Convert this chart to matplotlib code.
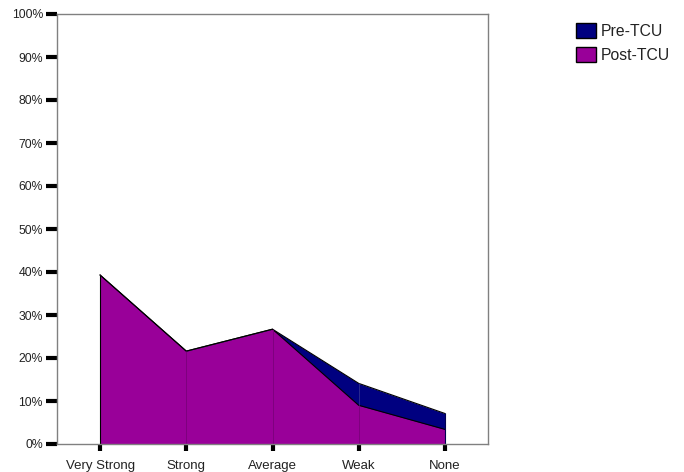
import matplotlib
matplotlib.use("Agg")
import matplotlib.pyplot as plt
from matplotlib.patches import Patch

plt.rcParams['font.family'] = ['Liberation Sans', 'DejaVu Sans']

categories = ["Very Strong", "Strong", "Average", "Weak", "None"]
pre_tcu = [39.3, 21.6, 26.7, 14.1, 7.1]
post_tcu = [39.3, 21.6, 26.7, 9.0, 3.4]
y_ticks = [0, 10, 20, 30, 40, 50, 60, 70, 80, 90, 100]

navy = "#000080"
purple = "#990099"

fig = plt.figure(figsize=(6.84, 4.72), dpi=100)
ax = fig.add_axes([57 / 684, 28 / 472, 431 / 684, 430 / 472])

x = list(range(len(categories)))
ax.fill_between(x, 0, pre_tcu, color=navy, lw=0)
ax.plot(x, pre_tcu, color="black", lw=0.8)
ax.fill_between(x, 0, post_tcu, color=purple, lw=0)
ax.plot(x, post_tcu, color="black", lw=0.8)
# faint vertical separators at each category
for i in x:
    ax.vlines(i, 0, post_tcu[i], color="#7a007a", lw=0.6)
    if pre_tcu[i] > post_tcu[i]:
        ax.vlines(i, post_tcu[i], pre_tcu[i], color="#303090", lw=0.6)
ax.vlines(0, 0, post_tcu[0], color="black", lw=0.8)
ax.vlines(4, 0, pre_tcu[4], color="#000050", lw=0.8)

ax.set_xlim(-0.5, 4.5)
ax.set_ylim(0, 100)
ax.set_yticks(y_ticks)
ax.set_yticklabels([f"{v}%" for v in y_ticks])
ax.set_xticks(x)
ax.set_xticklabels(categories)
ax.tick_params(axis="y", length=8, width=3, color="black", labelsize=8.8, pad=2,
               labelcolor="#222222")
ax.tick_params(axis="x", length=5, width=3, color="black", labelsize=9.5, pad=6.3,
               labelcolor="#222222")
for s in ax.spines.values():
    s.set_color("#808080")
    s.set_linewidth(1)

handles = [Patch(facecolor=navy, edgecolor="black", label="Pre-TCU"),
           Patch(facecolor=purple, edgecolor="black", label="Post-TCU")]
fig.legend(handles=handles, loc="upper left", bbox_to_anchor=(576 / 684, 1 - 23 / 472),
           frameon=False, fontsize=11.3, handlelength=1.25, handleheight=1.12,
           handletextpad=0.35, labelspacing=0.5, borderpad=0, borderaxespad=0,
           labelcolor="#222222")

fig.savefig("out.png", dpi=100)
